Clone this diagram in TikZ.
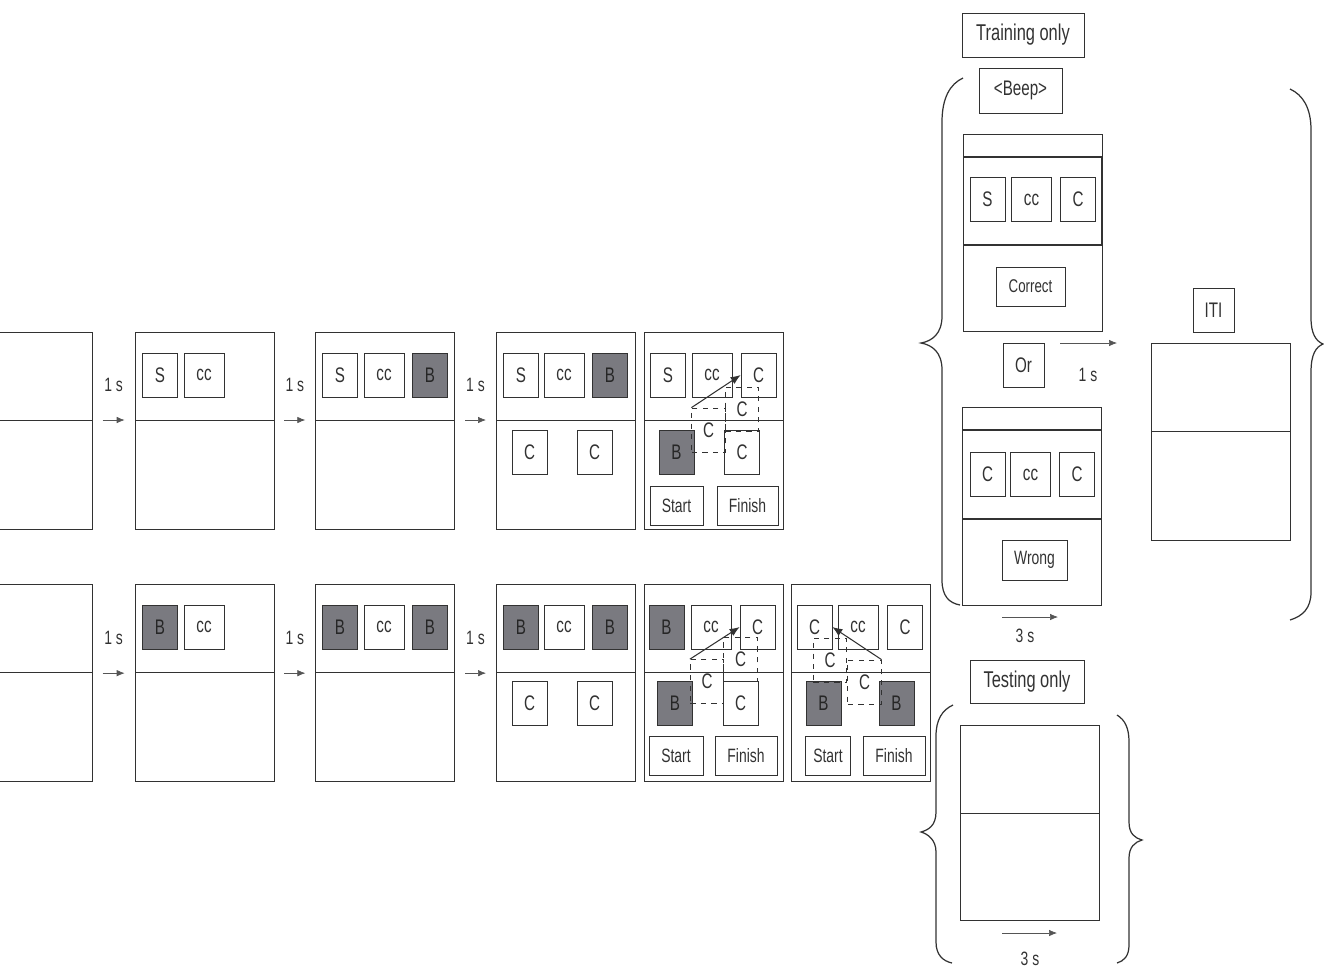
\documentclass[tikz,border=0pt]{standalone}
\usepackage{fontspec}
\setmainfont{Liberation Sans}[FakeStretch=0.72]
\usetikzlibrary{arrows.meta,positioning}
\definecolor{LineGray}{RGB}{50,50,50}
\definecolor{CardGray}{RGB}{122,122,128}
\definecolor{TickGray}{RGB}{85,85,85}
\tikzset{
  panel/.style={draw=LineGray, minimum width=2.78cm, minimum height=3.94cm, inner sep=0pt,
    path picture={\draw[LineGray] ([yshift=-1.76cm]path picture bounding box.north west)
      -- ([yshift=-1.76cm]path picture bounding box.north east);}},
  fbpanel/.style={draw=LineGray, minimum width=2.78cm, minimum height=3.95cm, inner sep=0pt,
    path picture={\draw[LineGray, line width=1.1pt] ([yshift=-0.45cm]path picture bounding box.north west)
      rectangle ([yshift=-2.22cm]path picture bounding box.north east);}},
  card/.style={draw=LineGray, minimum width=0.7cm, minimum height=0.88cm, inner sep=0pt,
    text=LineGray, font=\fontsize{12}{14}\selectfont},
  cuebox/.style={card, minimum width=0.8cm},
  hitbox/.style={card, fill=CardGray, text=black!85},
  ghostbox/.style={draw=LineGray, dashed, minimum width=0.67cm, minimum height=0.88cm, inner sep=0pt,
    text=LineGray, font=\fontsize{12}{14}\selectfont},
  keybox/.style={draw=LineGray, minimum height=0.78cm, inner sep=0pt, text=LineGray,
    font=\fontsize{11}{13}\selectfont},
  labelbox/.style={draw=LineGray, minimum height=0.88cm, inner sep=0pt, text=LineGray,
    font=\fontsize{12}{14}\selectfont},
  move/.style={-{Latex[length=2mm,width=1.6mm]}, LineGray, semithick},
  tick/.style={-{Latex[length=1.6mm,width=1.3mm]}, TickGray, shorten <=0.2cm, shorten >=0.2cm},
  freetick/.style={-{Latex[length=1.6mm,width=1.3mm]}, TickGray},
  delay/.style={text=LineGray, font=\fontsize{11}{13}\selectfont},
  brace/.style={LineGray, line width=0.7pt}
}
\begin{document}
\begin{tikzpicture}[x=0.02cm, y=-0.02cm]
  \useasboundingbox (0,0) rectangle (1324,970);
  \clip (0,0) rectangle (1324,970);

  % first sequence
  \node[panel] (p1) at (204.5,430.5) {};
  \node[panel, left=0.84cm of p1] (p0) {};
  \node[panel, right=0.82cm of p1] (p2) {};
  \node[panel, right=0.82cm of p2] (p3) {};
  \node[panel, right=0.16cm of p3] (p4) {};

  \node[card] (p1s) at (160,375) {S};
  \node[cuebox] (p1c) at (204,375) {cc};
  \node[card] (p2s) at (340,375) {S};
  \node[cuebox] (p2c) at (384,375) {cc};
  \node[hitbox] (p2b) at (430,375) {B};
  \node[card] (p3s) at (521,375) {S};
  \node[cuebox] (p3c) at (564,375) {cc};
  \node[hitbox] (p3b) at (610,375) {B};
  \node[card] (p3l) at (529.5,452) {C};
  \node[card] (p3r) at (594.5,452) {C};
  \node[card] (p4s) at (668,375) {S};
  \node[cuebox] (p4c) at (712,375) {cc};
  \node[card] (p4t) at (758.5,375) {C};
  \node[hitbox] (p4b) at (676.5,452) {B};
  \node[card] (p4r) at (742,452) {C};
  \node[ghostbox] (p4g1) at (708.5,430) {C};
  \node[ghostbox] (p4g2) at (742,409) {C};
  \node[keybox, minimum width=1.06cm] (p4st) at (676.5,506) {Start};
  \node[keybox, minimum width=1.22cm] (p4fi) at (747.5,506) {Finish};
  \draw[move] (p4g1.north west) -- (p4t.west);

  \draw[tick] ([yshift=0.21cm]p0.east) -- node[delay, above=0.45cm] {1 s} ([yshift=0.21cm]p1.west);
  \draw[tick] ([yshift=0.21cm]p1.east) -- node[delay, above=0.45cm] {1 s} ([yshift=0.21cm]p2.west);
  \draw[tick] ([yshift=0.21cm]p2.east) -- node[delay, above=0.45cm] {1 s} ([yshift=0.21cm]p3.west);

  % second sequence
  \node[panel, below=1.1cm of p1] (q1) {};
  \node[panel, left=0.84cm of q1] (q0) {};
  \node[panel, right=0.82cm of q1] (q2) {};
  \node[panel, right=0.82cm of q2] (q3) {};
  \node[panel, right=0.16cm of q3] (q4) {};
  \node[panel, right=0.16cm of q4] (q5) {};

  \node[hitbox] (q1b) at (160,627) {B};
  \node[cuebox] (q1c) at (204,627) {cc};
  \node[hitbox] (q2b) at (340,627) {B};
  \node[cuebox] (q2c) at (384,627) {cc};
  \node[hitbox] (q2d) at (430,627) {B};
  \node[hitbox] (q3b) at (521,627) {B};
  \node[cuebox] (q3c) at (564,627) {cc};
  \node[hitbox] (q3d) at (610,627) {B};
  \node[card] (q3l) at (529.5,703) {C};
  \node[card] (q3r) at (594.5,703) {C};
  \node[hitbox] (q4b) at (666.5,627) {B};
  \node[cuebox] (q4c) at (711,627) {cc};
  \node[card] (q4t) at (757.5,627) {C};
  \node[hitbox] (q4d) at (675,703) {B};
  \node[card] (q4r) at (740.5,703) {C};
  \node[ghostbox] (q4g1) at (707,681.5) {C};
  \node[ghostbox] (q4g2) at (740.5,659.5) {C};
  \node[keybox, minimum width=1.08cm] (q4st) at (676,755.5) {Start};
  \node[keybox, minimum width=1.24cm] (q4fi) at (746,755.5) {Finish};
  \draw[move] (q4g1.north west) -- (q4t.west);
  \node[card] (q5l) at (814.5,627) {C};
  \node[cuebox] (q5c) at (858,627) {cc};
  \node[card] (q5r) at (905,627) {C};
  \node[hitbox] (q5b) at (823.5,703) {B};
  \node[hitbox] (q5d) at (896.5,703) {B};
  \node[ghostbox] (q5g1) at (830,660) {C};
  \node[ghostbox] (q5g2) at (864.5,682) {C};
  \node[keybox, minimum width=0.9cm] (q5st) at (828,755.5) {Start};
  \node[keybox, minimum width=1.24cm] (q5fi) at (894,755.5) {Finish};
  \draw[move] (q5g2.north east) -- (q5l.east);

  \draw[tick] ([yshift=0.2cm]q0.east) -- node[delay, above=0.45cm] {1 s} ([yshift=0.2cm]q1.west);
  \draw[tick] ([yshift=0.2cm]q1.east) -- node[delay, above=0.45cm] {1 s} ([yshift=0.2cm]q2.west);
  \draw[tick] ([yshift=0.2cm]q2.east) -- node[delay, above=0.45cm] {1 s} ([yshift=0.2cm]q3.west);

  % feedback (training)
  \node[labelbox, minimum width=2.44cm, font=\fontsize{13}{15}\selectfont] (train) at (1023,35) {Training only};
  \node[labelbox, minimum width=1.66cm, minimum height=0.9cm] (beep) at (1020.5,90.5) {<Beep>};
  \node[fbpanel] (corrpanel) at (1032.5,233) {};
  \node[card] (cs) at (987.5,199.5) {S};
  \node[cuebox] (cc) at (1031.5,199.5) {cc};
  \node[card] (cc2) at (1078,199.5) {C};
  \node[keybox, minimum width=1.38cm, font=\fontsize{10.5}{12}\selectfont] (corr) at (1030.5,286.5) {Correct};
  \node[labelbox, minimum width=0.82cm] (or) at (1023.5,365) {Or};
  \node[fbpanel] (wrongpanel) at (1032,506.5) {};
  \node[card] (wc1) at (987.5,474.5) {C};
  \node[cuebox] (wcc) at (1030.5,474.5) {cc};
  \node[card] (wc2) at (1077,474.5) {C};
  \node[keybox, minimum width=1.3cm, minimum height=0.8cm] (wrong) at (1034.5,560) {Wrong};
  \node[labelbox, minimum width=0.82cm] (iti) at (1213.5,310) {ITI};
  \node[panel] (itipanel) at (1220.5,441.5) {};

  \coordinate (a1s) at (1060,343);
  \coordinate (a1e) at (1117,343);
  \draw[freetick] (a1s) -- (a1e);
  \node[delay] (d1) at (1088,375) {1 s};
  \coordinate (a2s) at (1002,617);
  \coordinate (a2e) at (1058,617);
  \draw[freetick] (a2s) -- (a2e);
  \node[delay] (d2) at (1025,636) {3 s};

  \draw[brace] (963,78) .. controls (950,84) and (942,98) .. (942,122) -- (942,316)
    .. controls (942,334) and (932,341) .. (921,343) .. controls (932,345) and (942,352) .. (942,370)
    -- (942,580) .. controls (942,596) and (949,603) .. (960,605);
  \draw[brace] (1290,89) .. controls (1303,95) and (1311,108) .. (1311,130) -- (1311,318)
    .. controls (1311,334) and (1316,341) .. (1323,344) .. controls (1316,347) and (1311,354) .. (1311,372)
    -- (1311,592) .. controls (1311,608) and (1303,616) .. (1290,620);

  % testing
  \node[labelbox, minimum width=2.28cm, minimum height=0.86cm, font=\fontsize{13}{15}\selectfont] (test) at (1027,681.5) {Testing only};
  \node[panel, minimum height=3.9cm] (testpanel) at (1030,822.5) {};
  \coordinate (a3s) at (1002,933);
  \coordinate (a3e) at (1057,933);
  \draw[freetick] (a3s) -- (a3e);
  \node[delay] (d3) at (1030,959) {3 s};

  \draw[brace] (953,705) .. controls (942,710) and (936,720) .. (936,736) -- (936,812)
    .. controls (936,826) and (928,830) .. (921,832) .. controls (928,834) and (936,840) .. (936,852)
    -- (936,942) .. controls (936,955) and (943,961) .. (952,963);
  \draw[brace] (1117,715) .. controls (1125,720) and (1129,728) .. (1129,742) -- (1129,822)
    .. controls (1129,834) and (1135,838) .. (1142,840) .. controls (1135,842) and (1129,847) .. (1129,858)
    -- (1129,945) .. controls (1129,956) and (1124,961) .. (1117,963);
\end{tikzpicture}
\end{document}
